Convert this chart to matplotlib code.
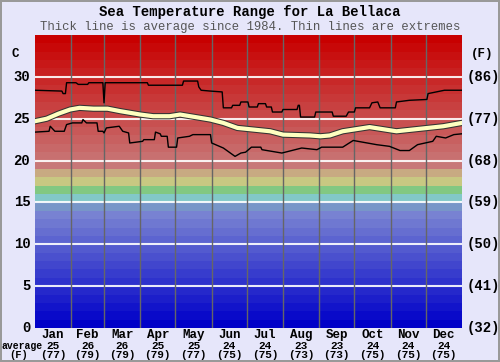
import numpy as np
import matplotlib
matplotlib.use("Agg")
import matplotlib.pyplot as plt
import matplotlib.patheffects as pe

months = ['Jan', 'Feb', 'Mar', 'Apr', 'May', 'Jun', 'Jul', 'Aug', 'Sep', 'Oct', 'Nov', 'Dec']
month_days = [31, 28, 31, 30, 31, 30, 31, 31, 30, 31, 30, 31]
avg_c = [25, 26, 26, 25, 25, 24, 24, 23, 23, 24, 24, 24]
avg_f = [77, 79, 79, 79, 77, 75, 75, 73, 73, 75, 75, 75]

c_ticks = [0, 5, 10, 15, 20, 25, 30]
f_labels = ['(32)', '(41)', '(50)', '(59)', '(68)', '(77)', '(86)']

# upper extreme (day of year, deg C)
max_day = [0, 23, 24, 26, 27, 35, 37, 45, 46, 58, 59, 60, 96, 97, 126, 127, 139, 140, 142,
           150, 160, 161, 168, 169, 175, 176, 182, 183, 190, 191, 197, 198, 202, 203, 211,
           212, 224, 225, 226, 227, 239, 240, 254, 255, 266, 268, 273, 274, 286, 288, 293,
           295, 308, 309, 320, 335, 336, 350, 365]
max_t = [28.4, 28.3, 28.0, 28.0, 29.3, 29.3, 29.1, 29.1, 29.3, 29.3, 26.9, 29.3, 29.3, 29.0,
         29.0, 29.5, 29.5, 28.8, 28.4, 28.3, 28.2, 26.3, 26.3, 26.6, 26.6, 27.0, 27.0, 26.4,
         26.4, 26.8, 26.8, 26.4, 26.4, 25.8, 25.8, 26.1, 26.1, 26.6, 26.6, 25.2, 25.2, 25.8,
         25.8, 25.3, 25.3, 25.8, 25.8, 26.3, 26.3, 26.9, 27.0, 26.3, 26.3, 27.0, 27.2, 27.3,
         28.0, 28.4, 28.4]

# average
mean_day = [0, 10, 20, 30, 38, 50, 62, 73, 90, 101, 115, 124, 150, 161, 173, 201, 212,
            235, 244, 252, 263, 286, 309, 329, 349, 365]
mean_t = [24.7, 25.0, 25.6, 26.1, 26.3, 26.2, 26.2, 25.9, 25.5, 25.3, 25.3, 25.5, 24.9,
          24.5, 23.9, 23.5, 23.1, 23.0, 22.9, 23.0, 23.5, 24.0, 23.5, 23.8, 24.1, 24.5]

# lower extreme
min_day = [0, 12, 13, 17, 25, 27, 32, 40, 41, 44, 53, 54, 58, 59, 61, 72, 75, 80, 81, 92,
           93, 102, 103, 107, 108, 113, 114, 121, 122, 132, 135, 150, 151, 161, 171, 176,
           180, 185, 193, 194, 211, 228, 241, 245, 263, 272, 280, 292, 303, 312, 320, 327,
           340, 343, 351, 358, 365]
min_t = [23.4, 23.5, 24.1, 23.5, 23.5, 24.3, 24.5, 24.5, 24.9, 24.5, 24.5, 23.5, 23.5, 23.3,
         23.9, 24.1, 23.5, 23.3, 22.1, 22.3, 22.5, 22.5, 23.4, 23.2, 22.9, 22.9, 21.6, 21.6,
         22.7, 22.9, 23.1, 23.1, 22.1, 21.5, 20.5, 20.9, 21.0, 21.6, 21.6, 21.3, 20.9, 21.5,
         21.3, 21.6, 21.6, 22.4, 22.2, 21.9, 21.7, 21.2, 21.2, 21.9, 22.3, 22.9, 22.7, 23.1,
         23.2]

bg = '#E6E6FA'
fig = plt.figure(figsize=(5, 3.62), dpi=100, facecolor=bg)
fig.patch.set_edgecolor('#999999')
fig.patch.set_linewidth(1.5)
ax = fig.add_axes([35 / 500, 34 / 362, 427 / 500, 293 / 362])
ax.set_xlim(0, 365)
ax.set_ylim(0, 35)

# colour bands, one per degree
mid = {14: (120, 150, 200), 15: (130, 200, 200), 16: (130, 200, 130),
       17: (200, 200, 130), 18: (200, 170, 130)}
for t in range(35):
    if t < 14:
        v = t / 13 * 120
        col = (v, v + t / 13 * 10, 200 + t / 13 * 10)
    elif t in mid:
        col = mid[t]
    else:
        v = 120 * (1 - (t - 19) / 15)
        col = (200, v, v)
    ax.axhspan(t, t + 1, color=np.array(col) / 255, lw=0)

for t in c_ticks[1:]:
    ax.axhline(t, color='white', lw=1.5, alpha=0.9)
bounds = np.cumsum(month_days)[:-1]
for b in bounds:
    ax.axvline(b, color='#666666', lw=1)

ax.plot(max_day, max_t, color='black', lw=1)
ax.plot(min_day, min_t, color='black', lw=1)
ax.plot(mean_day, mean_t, color='#FFFFC0', lw=3,
        path_effects=[pe.Stroke(linewidth=4.5, foreground='#333333'), pe.Normal()])

ax.set_xticks([])
ax.set_yticks([])
for s in ax.spines.values():
    s.set_visible(False)

mono = 'Liberation Mono'
for t, fl in zip(c_ticks, f_labels):
    ax.text(-4, t, str(t), ha='right', va='center', fontsize=10, family=mono,
            fontweight='bold', clip_on=False)
    ax.text(369, t, fl, ha='left', va='center', fontsize=10, family=mono,
            fontweight='bold', clip_on=False)
ax.text(-17, 32.7, 'C', ha='center', va='center', fontsize=9, family=mono,
        fontweight='bold', clip_on=False)
ax.text(382, 32.7, '(F)', ha='center', va='center', fontsize=9, family=mono,
        fontweight='bold', clip_on=False)

starts = np.concatenate([[0], bounds])
for i, m in enumerate(months):
    cx = (35 + (starts[i] + month_days[i] / 2) * 427 / 365) / 500
    fig.text(cx, 1 - 335 / 362, m, ha='center', va='center',
             fontsize=9, family=mono, fontweight='bold')
    fig.text(cx, 1 - 346 / 362, str(avg_c[i]), ha='center',
             va='center', fontsize=8, family=mono, fontweight='bold')
    fig.text(cx, 1 - 355.5 / 362, '(%d)' % avg_f[i], ha='center',
             va='center', fontsize=8, family=mono, fontweight='bold')
fig.text(2 / 500, 1 - 346 / 362, 'average', ha='left', va='center', fontsize=7,
         family=mono, fontweight='bold')
fig.text(19 / 500, 1 - 355.5 / 362, '(F)', ha='center', va='center', fontsize=7.5,
         family=mono, fontweight='bold')

fig.text(0.5, 1 - 12 / 362, 'Sea Temperature Range for La Bellaca', ha='center',
         va='center', fontsize=10, family=mono, fontweight='bold')
fig.text(0.5, 1 - 27 / 362, 'Thick line is average since 1984. Thin lines are extremes',
         ha='center', va='center', fontsize=8.8, family=mono, color='#555555')

fig.savefig('out.png', dpi=100, facecolor=bg, edgecolor=fig.get_edgecolor())
